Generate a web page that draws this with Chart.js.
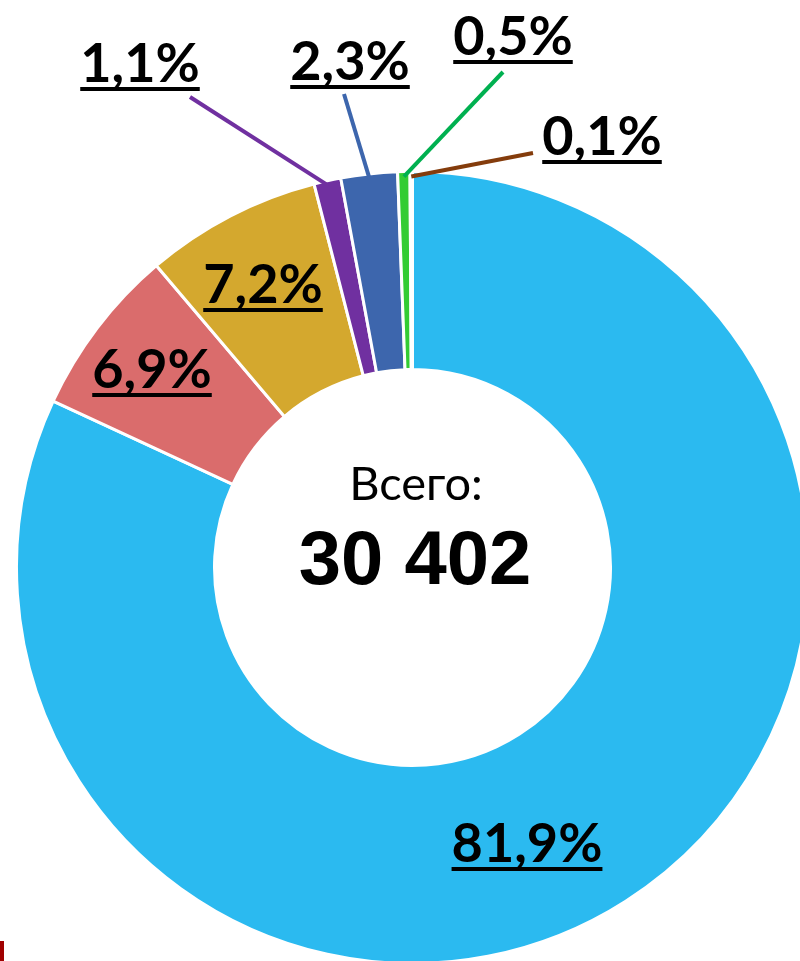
<!DOCTYPE html>
<html>
<head>
<meta charset="utf-8">
<script src="https://cdn.jsdelivr.net/npm/chart.js@4/dist/chart.umd.min.js"></script>
<style>
    body { margin: 0; overflow: hidden; background: #fff; width: 800px; height: 961px; position: relative; }
    .chart-box { position: absolute; left: 0; top: 0; width: 830px; height: 965px; }
    .mark { position: absolute; left: 0; top: 941px; width: 4px; height: 20px; background: #a00000; }
</style>
</head>
<body>
<div class="chart-box"><canvas id="myDonut"></canvas></div>
<div class="mark"></div>
<script>
// Data
const categories = ['Сегмент 1', 'Сегмент 2', 'Сегмент 3', 'Сегмент 4', 'Сегмент 5', 'Сегмент 6', 'Сегмент 7'];
const shares = [81.9, 6.9, 7.2, 1.1, 2.3, 0.5, 0.1];
const sliceColors = ['#2bbaf0', '#da6c6c', '#d4a82e', '#7030a0', '#3d66ad', '#33cc33', '#8b4513'];
const leaderColors = [null, null, null, '#7030a0', '#3d66ad', '#00b050', '#843c0c'];
const totalLabel = 'Всего:';
const totalValue = '30 402';

// Posisi label (x tengah, baseline) & ujung garis penunjuk
const labelPos = [[527, 862], [152, 388], [263, 303], [140, 82], [350, 80], [513, 55], [602, 155]];
const leaderEnd = [null, null, null, [190, 97], [344, 94], [503, 72], [533, 153]];

const pctText = v => v.toFixed(1).replace('.', ',') + '%';

// Plugin untuk label persen + teks tengah
const labelPlugin = {
    id: 'donutLabels',
    afterDatasetsDraw(chart) {
        const ctx = chart.ctx;
        const meta = chart.getDatasetMeta(0);
        ctx.save();

        meta.data.forEach((arc, i) => {
            // garis penunjuk
            if (leaderEnd[i]) {
                const mid = (arc.startAngle + arc.endAngle) / 2;
                const r = arc.outerRadius - 5;
                ctx.strokeStyle = leaderColors[i];
                ctx.lineWidth = 4;
                ctx.beginPath();
                ctx.moveTo(leaderEnd[i][0], leaderEnd[i][1]);
                ctx.lineTo(arc.x + Math.cos(mid) * r, arc.y + Math.sin(mid) * r);
                ctx.stroke();
            }

            // teks persen bergaris bawah
            const txt = pctText(shares[i]);
            ctx.font = 'bold 54px Lato';
            ctx.fillStyle = '#000';
            ctx.textAlign = 'center';
            ctx.textBaseline = 'alphabetic';
            const [x, y] = labelPos[i];
            ctx.fillText(txt, x, y);
            const w = ctx.measureText(txt).width;
            ctx.fillRect(x - w / 2, y + 5, w, 4);
        });

        // teks tengah
        const cx = meta.data[0].x;
        const cy = meta.data[0].y;
        ctx.textAlign = 'center';
        ctx.fillStyle = '#000';
        ctx.font = '47px Lato';
        ctx.fillText(totalLabel, 416, cy - 68);
        ctx.font = 'bold 76px "Liberation Sans"';
        ctx.fillText(totalValue, 415, cy + 16);
        ctx.restore();
    }
};

const ctxDonut = document.getElementById('myDonut').getContext('2d');
new Chart(ctxDonut, {
    type: 'doughnut',
    data: {
        labels: categories,
        datasets: [{
            data: shares,
            backgroundColor: sliceColors,
            borderColor: '#ffffff',
            borderWidth: 3
        }]
    },
    options: {
        responsive: true,
        maintainAspectRatio: false,
        animation: false,
        cutout: '50%',
        layout: {
            padding: { left: 15, top: 170, right: 20, bottom: 0 }
        },
        plugins: {
            legend: { display: false },
            tooltip: { enabled: false }
        }
    },
    plugins: [labelPlugin]
});
</script>
</body>
</html>
